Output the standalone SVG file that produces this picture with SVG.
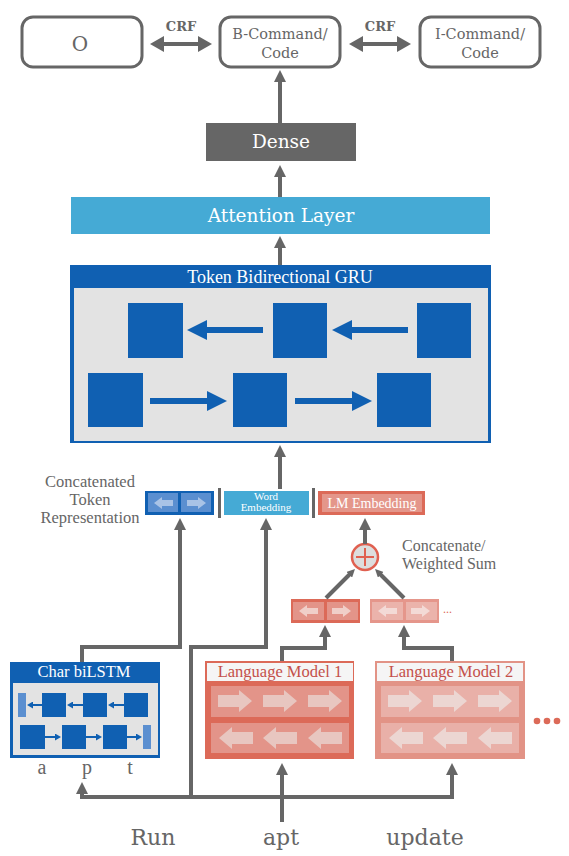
<svg xmlns="http://www.w3.org/2000/svg" width="569" height="856" viewBox="0 0 569 856">
<style>
.g{stroke:#666;stroke-width:4;fill:none;stroke-linejoin:miter}
.slab{font-family:"DejaVu Serif",serif}
.tm{font-family:"Liberation Serif","Times New Roman",serif}
.tb{fill:#fff;stroke:#666;stroke-width:3}
.gy{fill:#666}
.w{fill:#fff}
.blue{fill:#1060b2}
.gray{fill:#e3e3e3}
.mid{text-anchor:middle}
</style>
<defs>
<marker id="ah" viewBox="0 0 12 12" markerWidth="12" markerHeight="12" markerUnits="userSpaceOnUse" refX="2" refY="6" orient="auto-start-reverse"><path d="M0,0L12,6L0,12z" fill="#666"/></marker>
<marker id="ah2" viewBox="0 0 14 16" markerWidth="14" markerHeight="16" markerUnits="userSpaceOnUse" refX="2" refY="8" orient="auto-start-reverse"><path d="M0,0L14,8L0,16z" fill="#666"/></marker>
<marker id="th" viewBox="0 0 8 8" markerWidth="8" markerHeight="8" markerUnits="userSpaceOnUse" refX="1" refY="4" orient="auto"><path d="M0,0L8,4L0,8z" fill="#666"/></marker>
<marker id="gb" viewBox="0 0 20 20" markerWidth="20" markerHeight="20" markerUnits="userSpaceOnUse" refX="1" refY="10" orient="auto"><path d="M0,0L20,10L0,20z" fill="#1060b2"/></marker>
<marker id="cb" viewBox="0 0 6 7" markerWidth="6" markerHeight="7" markerUnits="userSpaceOnUse" refX="1" refY="3.5" orient="auto"><path d="M0,0L6,3.5L0,7z" fill="#1060b2"/></marker>
<path id="ra" d="M0,-6H21V-11L34,0L21,11V6H0Z"/>
<path id="la" d="M34,-6H13V-11L0,0L13,11V6H34Z"/>
<path id="sra" d="M0,-3H11V-6L19,0L11,6V3H0Z"/>
<path id="sla" d="M19,-3H8V-6L0,0L8,6V3H19Z"/>
</defs>

<g id="node-O">
<rect class="tb" x="22" y="17" width="120" height="50" rx="11"/>
<text class="slab gy mid" x="80" y="51" font-size="20">O</text>
</g>
<g id="node-B">
<rect class="tb" x="220" y="17" width="120" height="50" rx="11"/>
<text class="slab gy mid" x="280" y="39" font-size="14.5">B-Command/</text>
<text class="slab gy mid" x="280" y="58" font-size="14.5">Code</text>
</g>
<g id="node-I">
<rect class="tb" x="420" y="17" width="120" height="50" rx="11"/>
<text class="slab gy mid" x="480" y="39" font-size="14.5">I-Command/</text>
<text class="slab gy mid" x="480" y="58" font-size="14.5">Code</text>
</g>
<g id="crf-labels">
<text class="slab gy mid" x="181" y="31" font-size="13" font-weight="bold">CRF</text>
<text class="slab gy mid" x="380" y="31" font-size="13" font-weight="bold">CRF</text>
</g>

<g id="node-dense">
<rect x="206" y="123" width="150" height="38" fill="#666"/>
<text class="slab w mid" x="281" y="148" font-size="18.5">Dense</text>
</g>
<g id="node-attention">
<rect x="71" y="197" width="419" height="37" fill="#45aad5"/>
<text class="slab w mid" x="281" y="222" font-size="18.5">Attention Layer</text>
</g>

<g id="node-gru">
<rect class="blue" x="70" y="265" width="421" height="178"/>
<rect class="gray" x="74" y="288" width="414" height="153"/>
<text class="tm w mid" x="280" y="283" font-size="18">Token Bidirectional GRU</text>
<rect class="blue" x="128" y="303" width="55" height="55"/>
<rect class="blue" x="273" y="303" width="54" height="55"/>
<rect class="blue" x="417" y="303" width="54" height="55"/>
<rect class="blue" x="88" y="373" width="55" height="54"/>
<rect class="blue" x="233" y="373" width="54" height="54"/>
<rect class="blue" x="377" y="373" width="54" height="54"/>
<g stroke="#1060b2" stroke-width="6" fill="none" marker-end="url(#gb)">
<path d="M263,330H206"/>
<path d="M408,330H351"/>
<path d="M150,401H208"/>
<path d="M295,401H353"/>
</g>
</g>

<g id="node-concat-label">
<text class="tm gy mid" x="90" y="487" font-size="16.5">Concatenated</text>
<text class="tm gy mid" x="90" y="505" font-size="16.5">Token</text>
<text class="tm gy mid" x="90" y="523" font-size="16.5">Representation</text>
</g>
<g id="node-char-vec">
<rect class="blue" x="145" y="491" width="69" height="24"/>
<rect x="148" y="493" width="30" height="19" fill="#5b8fd0"/>
<rect x="181" y="493" width="30" height="19" fill="#5b8fd0"/>
<use href="#sla" x="154" y="503" fill="#a9c3e6"/>
<use href="#sra" x="187" y="503" fill="#a9c3e6"/>
</g>
<g id="separators" fill="#666">
<rect x="218" y="488" width="3" height="30"/>
<rect x="312" y="488" width="3" height="30"/>
</g>
<g id="node-word-emb">
<rect x="224" y="491" width="85" height="24" fill="#45aad5"/>
<text class="tm w mid" x="266" y="500" font-size="11">Word</text>
<text class="tm w mid" x="266" y="511" font-size="11">Embedding</text>
</g>
<g id="node-lm-emb">
<rect x="318" y="491" width="107" height="24" fill="#dc6a58"/>
<rect x="322" y="494" width="100" height="18" fill="#e4968a"/>
<text class="tm w mid" x="372" y="508" font-size="14">LM Embedding</text>
</g>

<g id="node-sum">
<circle cx="365" cy="557" r="13" fill="#ddd" stroke="#e06050" stroke-width="2.5"/>
<path d="M356,557H374M365,548V566" stroke="#e06050" stroke-width="2"/>
</g>
<g id="node-sum-label">
<text class="tm gy" x="402" y="551" font-size="16">Concatenate/</text>
<text class="tm gy" x="402" y="569" font-size="16">Weighted Sum</text>
</g>

<g id="node-lmvec1">
<rect x="291" y="599" width="69" height="24" fill="#dc6a58"/>
<rect x="293" y="602" width="31" height="18" fill="#e39489"/>
<rect x="327" y="602" width="31" height="18" fill="#e39489"/>
<use href="#sla" x="299" y="611" fill="#f0cfc9"/>
<use href="#sra" x="332" y="611" fill="#f0cfc9"/>
</g>
<g id="node-lmvec2">
<rect x="370" y="599" width="69" height="24" fill="#e5968b"/>
<rect x="372" y="602" width="31" height="18" fill="#ebb3ab"/>
<rect x="406" y="602" width="31" height="18" fill="#ebb3ab"/>
<use href="#sla" x="378" y="611" fill="#f3dad6"/>
<use href="#sra" x="411" y="611" fill="#f3dad6"/>
<text class="tm" x="443" y="613" font-size="12" fill="#dc6a58">...</text>
</g>

<g id="node-char-bilstm">
<rect class="blue" x="10" y="662" width="150" height="96"/>
<rect class="gray" x="13" y="683" width="145" height="72"/>
<text class="tm w mid" x="84" y="677" font-size="16.5">Char biLSTM</text>
<rect x="18" y="693" width="8" height="24" fill="#5b8fd0"/>
<rect class="blue" x="42" y="693" width="24" height="24"/>
<rect class="blue" x="83" y="693" width="24" height="24"/>
<rect class="blue" x="124" y="693" width="24" height="24"/>
<rect class="blue" x="20" y="725" width="25" height="24"/>
<rect class="blue" x="62" y="725" width="24" height="24"/>
<rect class="blue" x="103" y="725" width="24" height="24"/>
<rect x="143" y="725" width="8" height="24" fill="#5b8fd0"/>
<g stroke="#1060b2" stroke-width="2" fill="none" marker-end="url(#cb)">
<path d="M42,705H32"/>
<path d="M83,705H72"/>
<path d="M124,705H113"/>
<path d="M45,737H56"/>
<path d="M86,737H97"/>
<path d="M127,737H137"/>
</g>
</g>
<g id="char-labels">
<text class="tm gy mid" x="42" y="774" font-size="20">a</text>
<text class="tm gy mid" x="87" y="774" font-size="20">p</text>
<text class="tm gy mid" x="130" y="774" font-size="20">t</text>
</g>

<g id="node-lm1">
<rect x="205" y="661" width="149" height="98" fill="#dc6a58"/>
<rect x="207" y="663" width="146" height="18" fill="#f5f5f5"/>
<text class="tm mid" x="280" y="677" font-size="16.5" fill="#c4504a">Language Model 1</text>
<rect x="211" y="686" width="138" height="31" fill="#e39489"/>
<rect x="211" y="723" width="138" height="30" fill="#e39489"/>
<g fill="#e8c6c0">
<use href="#ra" x="218" y="701"/>
<use href="#ra" x="263" y="701"/>
<use href="#ra" x="308" y="701"/>
<use href="#la" x="219" y="738"/>
<use href="#la" x="263" y="738"/>
<use href="#la" x="308" y="738"/>
</g>
</g>
<g id="node-lm2">
<rect x="375" y="661" width="150" height="98" fill="#e29386"/>
<rect x="377" y="663" width="146" height="18" fill="#f5f5f5"/>
<text class="tm mid" x="451" y="677" font-size="16.5" fill="#c4504a">Language Model 2</text>
<rect x="381" y="686" width="138" height="31" fill="#e9b0a8"/>
<rect x="381" y="723" width="138" height="30" fill="#e9b0a8"/>
<g fill="#ecd6d2">
<use href="#ra" x="388" y="701"/>
<use href="#ra" x="433" y="701"/>
<use href="#ra" x="478" y="701"/>
<use href="#la" x="389" y="738"/>
<use href="#la" x="433" y="738"/>
<use href="#la" x="478" y="738"/>
</g>
</g>
<g id="more-dots" fill="#dc6a58">
<circle cx="537" cy="721" r="3.3"/>
<circle cx="547" cy="721" r="3.3"/>
<circle cx="557" cy="721" r="3.3"/>
</g>

<g id="words">
<text class="slab gy mid" x="153" y="845" font-size="22">Run</text>
<text class="slab gy mid" x="281" y="845" font-size="22">apt</text>
<text class="slab gy mid" x="425" y="845" font-size="22">update</text>
</g>

<g id="connectors">
<path class="g" d="M162,44H200" stroke-width="5" marker-start="url(#ah2)" marker-end="url(#ah2)"/>
<path class="g" d="M361,44H399" stroke-width="5" marker-start="url(#ah2)" marker-end="url(#ah2)"/>
<path class="g" d="M280,123V80" marker-end="url(#ah)"/>
<path class="g" d="M280,197V175" marker-end="url(#ah)"/>
<path class="g" d="M280,265V246" marker-end="url(#ah)"/>
<path class="g" d="M280,489V455" marker-end="url(#ah)"/>
<path class="g" d="M82,662V647H180V528" marker-end="url(#ah)"/>
<path class="g" d="M191,797V647H266V528" marker-end="url(#ah)"/>
<path class="g" d="M365,544V528" marker-end="url(#ah)"/>
<path class="g" d="M282,661V648H325V635" marker-end="url(#ah)"/>
<path class="g" d="M452,661V648H404V635" marker-end="url(#ah)"/>
<path class="g" d="M326,598L350,574" stroke-width="1.6" marker-end="url(#th)"/>
<path class="g" d="M404,598L380,574" stroke-width="1.6" marker-end="url(#th)"/>
<path class="g" d="M80,797H454"/>
<path class="g" d="M82,797V792" marker-end="url(#ah)"/>
<path class="g" d="M452,797V773" marker-end="url(#ah)"/>
<path class="g" d="M282,822V773" marker-end="url(#ah)"/>
</g>
</svg>
